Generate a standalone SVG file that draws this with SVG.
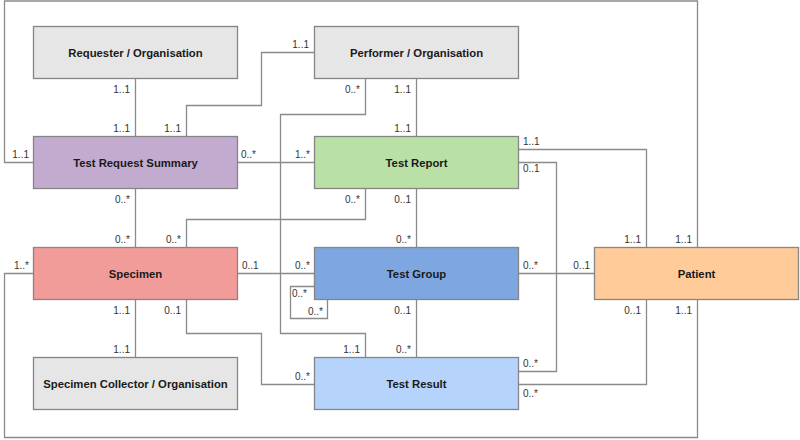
<svg xmlns="http://www.w3.org/2000/svg" width="800" height="440" viewBox="0 0 800 440">
  <style>
    .box { stroke: #858585; stroke-width: 1.3; }
    .name { font-family: "Liberation Sans", Arial, sans-serif; font-size: 11.3px; font-weight: bold; fill: #1a1a1a; text-anchor: middle; }
    .edge { fill: none; stroke: #8a8a8a; stroke-width: 1.3; }
    .m { font-family: "Liberation Sans", Arial, sans-serif; font-size: 10px; fill: #333333; }
    .e { text-anchor: end; }
  </style>
  <rect width="800" height="440" fill="#ffffff"/>

  <!-- connectors and their multiplicities -->
  <g id="connectors">
    <path class="edge" d="M135.5 78.5 V136.5"/>
    <path class="edge" d="M416.5 78.5 V136.5"/>
    <path class="edge" d="M314.5 52.5 H261.5 V105.5 H186.5 V136.5"/>
    <path class="edge" d="M365.5 78.5 V114.5 H280.5 V333.5 H365.5 V357.5"/>
    <path class="edge" d="M237.5 162.5 H314.5"/>
    <path class="edge" d="M135.5 188.5 V247.5"/>
    <path class="edge" d="M365.5 188.5 V219.5 H186.5 V247.5"/>
    <path class="edge" d="M416.5 188.5 V247.5"/>
    <path class="edge" d="M518.5 149.5 H646.5 V247.5"/>
    <path class="edge" d="M518.5 162.5 H556.5 V371.5 H518.5"/>
    <path class="edge" d="M237.5 273.5 H314.5"/>
    <path class="edge" d="M314.5 286.5 H290.5 V318.5 H327.5 V299.5"/>
    <path class="edge" d="M416.5 299.5 V357.5"/>
    <path class="edge" d="M518.5 273.5 H594.5"/>
    <path class="edge" d="M135.5 299.5 V357.5"/>
    <path class="edge" d="M186.5 299.5 V333.5 H261.5 V384.5 H314.5"/>
    <path class="edge" d="M518.5 384.5 H646.5 V299.5"/>
    <path class="edge" d="M33.5 162.5 H4.5 V1 H697.5 V247.5"/>
    <path class="edge" d="M33.5 273.5 H4.5 V437.5 H697.5 V299.5"/>

    <text class="m e" x="130" y="93">1..1</text>
    <text class="m e" x="130" y="132">1..1</text>
    <text class="m e" x="411" y="93">1..1</text>
    <text class="m e" x="411" y="132">1..1</text>
    <text class="m e" x="309" y="48">1..1</text>
    <text class="m e" x="181" y="132">1..1</text>
    <text class="m e" x="360" y="93">0..*</text>
    <text class="m e" x="360" y="353">1..1</text>
    <text class="m" x="241" y="158">0..*</text>
    <text class="m e" x="310" y="158">1..*</text>
    <text class="m e" x="130" y="203">0..*</text>
    <text class="m e" x="130" y="243">0..*</text>
    <text class="m e" x="360" y="203">0..*</text>
    <text class="m e" x="181" y="243">0..*</text>
    <text class="m e" x="411" y="203">0..1</text>
    <text class="m e" x="411" y="243">0..*</text>
    <text class="m" x="523" y="145">1..1</text>
    <text class="m e" x="641" y="243">1..1</text>
    <text class="m" x="523" y="172">0..1</text>
    <text class="m" x="523" y="367">0..*</text>
    <text class="m" x="242" y="269">0..1</text>
    <text class="m e" x="310" y="269">0..*</text>
    <text class="m" x="292" y="297">0..*</text>
    <text class="m e" x="323" y="315">0..*</text>
    <text class="m e" x="411" y="314">0..1</text>
    <text class="m e" x="411" y="353">0..*</text>
    <text class="m" x="523" y="269">0..*</text>
    <text class="m e" x="590" y="269">0..1</text>
    <text class="m e" x="130" y="314">1..1</text>
    <text class="m e" x="130" y="353">1..1</text>
    <text class="m e" x="181" y="314">0..1</text>
    <text class="m e" x="310" y="380">0..*</text>
    <text class="m" x="523" y="397">0..*</text>
    <text class="m e" x="641" y="314">0..1</text>
    <text class="m e" x="29" y="158">1..1</text>
    <text class="m e" x="692" y="243">1..1</text>
    <text class="m e" x="29" y="269">1..*</text>
    <text class="m e" x="692" y="314">1..1</text>
  </g>

  <!-- nodes -->
  <g id="requester">
    <rect class="box" x="33.5" y="26.5" width="204" height="52" fill="#e6e6e6"/>
    <text class="name" x="135.5" y="56.5">Requester / Organisation</text>
  </g>
  <g id="performer">
    <rect class="box" x="314.5" y="26.5" width="204" height="52" fill="#e6e6e6"/>
    <text class="name" x="416.5" y="56.5">Performer / Organisation</text>
  </g>
  <g id="test-request-summary">
    <rect class="box" x="33.5" y="136.5" width="204" height="52" fill="#c3abd0"/>
    <text class="name" x="135.5" y="166.5">Test Request Summary</text>
  </g>
  <g id="test-report">
    <rect class="box" x="314.5" y="136.5" width="204" height="52" fill="#b9e0a5"/>
    <text class="name" x="416.5" y="166.5">Test Report</text>
  </g>
  <g id="specimen">
    <rect class="box" x="33.5" y="247.5" width="204" height="52" fill="#f19c99"/>
    <text class="name" x="135.5" y="277.5">Specimen</text>
  </g>
  <g id="test-group">
    <rect class="box" x="314.5" y="247.5" width="204" height="52" fill="#7ea6e0"/>
    <text class="name" x="416.5" y="277.5">Test Group</text>
  </g>
  <g id="patient">
    <rect class="box" x="594.5" y="247.5" width="204" height="52" fill="#ffcc99"/>
    <text class="name" x="696.5" y="277.5">Patient</text>
  </g>
  <g id="specimen-collector">
    <rect class="box" x="33.5" y="357.5" width="204" height="52" fill="#e6e6e6"/>
    <text class="name" x="135.5" y="387.5">Specimen Collector / Organisation</text>
  </g>
  <g id="test-result">
    <rect class="box" x="314.5" y="357.5" width="204" height="52" fill="#b5d3fb"/>
    <text class="name" x="416.5" y="387.5">Test Result</text>
  </g>
</svg>
